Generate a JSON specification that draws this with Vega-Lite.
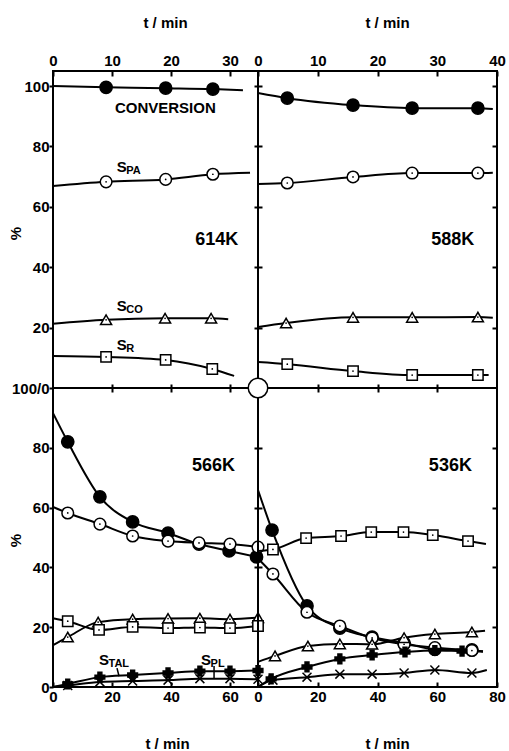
{
  "$schema": "https://vega.github.io/schema/vega-lite/v6.json",
  "background": "white",
  "padding": {"left": 7, "top": 14, "right": 5, "bottom": 0},
  "columns": 2,
  "spacing": 0,
  "bounds": "flush",
  "config": {
    "view": {"stroke": "black", "strokeWidth": 2},
    "axis": {"labelFont": "Liberation Sans", "labelFontWeight": "bold", "labelFontSize": 15, "labelColor": "black", "tickColor": "black", "tickWidth": 2, "titleFont": "Liberation Sans", "titleFontWeight": "bold", "titleFontSize": 15, "titleColor": "black", "grid": false, "domain": false, "labelFlush": false, "labelOverlap": false},
    "text": {"font": "Liberation Sans", "fontWeight": "bold", "color": "black"}
  },
  "datasets": {
    "d": [
      {"p":"614K","s":"CONV","t":0,"v":100,"m":0},{"p":"614K","s":"CONV","t":9,"v":99.6,"m":1},{"p":"614K","s":"CONV","t":19.1,"v":99.3,"m":1},{"p":"614K","s":"CONV","t":27.1,"v":99.0,"m":1},{"p":"614K","s":"CONV","t":32.2,"v":98.6,"m":0},
      {"p":"614K","s":"SPA","t":0,"v":66.9,"m":0},{"p":"614K","s":"SPA","t":9,"v":68.3,"m":1},{"p":"614K","s":"SPA","t":19.1,"v":69.1,"m":1},{"p":"614K","s":"SPA","t":27.1,"v":70.8,"m":1},{"p":"614K","s":"SPA","t":33.4,"v":71.3,"m":0},
      {"p":"614K","s":"SCO","t":0,"v":21.3,"m":0},{"p":"614K","s":"SCO","t":9,"v":22.6,"m":1},{"p":"614K","s":"SCO","t":19,"v":23.1,"m":1},{"p":"614K","s":"SCO","t":26.8,"v":23.1,"m":1},{"p":"614K","s":"SCO","t":29.7,"v":22.8,"m":0},
      {"p":"614K","s":"SR","t":0,"v":10.6,"m":0},{"p":"614K","s":"SR","t":9,"v":10.3,"m":1},{"p":"614K","s":"SR","t":19.1,"v":9.3,"m":1},{"p":"614K","s":"SR","t":27,"v":6.3,"m":1},{"p":"614K","s":"SR","t":30.7,"v":4.0,"m":0},

      {"p":"588K","s":"CONV","t":0,"v":97.7,"m":0},{"p":"588K","s":"CONV","t":4.9,"v":96,"m":1},{"p":"588K","s":"CONV","t":15.9,"v":93.7,"m":1},{"p":"588K","s":"CONV","t":25.8,"v":92.7,"m":1},{"p":"588K","s":"CONV","t":36.8,"v":92.7,"m":1},{"p":"588K","s":"CONV","t":39.3,"v":92.4,"m":0},
      {"p":"588K","s":"SPA","t":0,"v":67.6,"m":0},{"p":"588K","s":"SPA","t":4.9,"v":67.9,"m":1},{"p":"588K","s":"SPA","t":15.9,"v":69.9,"m":1},{"p":"588K","s":"SPA","t":25.8,"v":71.2,"m":1},{"p":"588K","s":"SPA","t":36.8,"v":71.2,"m":1},{"p":"588K","s":"SPA","t":39.3,"v":71.3,"m":0},
      {"p":"588K","s":"SCO","t":0,"v":20.2,"m":0},{"p":"588K","s":"SCO","t":4.7,"v":21.5,"m":1},{"p":"588K","s":"SCO","t":15.9,"v":23.4,"m":1},{"p":"588K","s":"SCO","t":25.8,"v":23.4,"m":1},{"p":"588K","s":"SCO","t":36.8,"v":23.5,"m":1},{"p":"588K","s":"SCO","t":39.3,"v":23.3,"m":0},
      {"p":"588K","s":"SR","t":0,"v":8.6,"m":0},{"p":"588K","s":"SR","t":4.9,"v":7.9,"m":1},{"p":"588K","s":"SR","t":15.9,"v":5.6,"m":1},{"p":"588K","s":"SR","t":25.8,"v":4.3,"m":1},{"p":"588K","s":"SR","t":36.8,"v":4.3,"m":1},{"p":"588K","s":"SR","t":38.6,"v":4.3,"m":0},

      {"p":"566K","s":"CONV","t":0,"v":91.6,"m":0},{"p":"566K","s":"CONV","t":5,"v":82,"m":1},{"p":"566K","s":"CONV","t":15.9,"v":63.6,"m":1},{"p":"566K","s":"CONV","t":27,"v":55.2,"m":1},{"p":"566K","s":"CONV","t":39,"v":51.5,"m":1},{"p":"566K","s":"CONV","t":49.5,"v":47.8,"m":1},{"p":"566K","s":"CONV","t":59.7,"v":45.5,"m":1},{"p":"566K","s":"CONV","t":69,"v":43.5,"m":1},
      {"p":"566K","s":"SPA","t":0,"v":60.2,"m":0},{"p":"566K","s":"SPA","t":5,"v":58.2,"m":1},{"p":"566K","s":"SPA","t":15.9,"v":54.5,"m":1},{"p":"566K","s":"SPA","t":27,"v":50.5,"m":1},{"p":"566K","s":"SPA","t":39,"v":48.8,"m":1},{"p":"566K","s":"SPA","t":49.5,"v":48.2,"m":1},{"p":"566K","s":"SPA","t":60,"v":47.8,"m":1},{"p":"566K","s":"SPA","t":69.5,"v":46.8,"m":1},
      {"p":"566K","s":"SCO","t":0,"v":14,"m":0},{"p":"566K","s":"SCO","t":5,"v":16.7,"m":1},{"p":"566K","s":"SCO","t":15.3,"v":21.7,"m":1},{"p":"566K","s":"SCO","t":27,"v":22.7,"m":1},{"p":"566K","s":"SCO","t":39,"v":22.9,"m":1},{"p":"566K","s":"SCO","t":49.8,"v":23,"m":1},{"p":"566K","s":"SCO","t":60,"v":22.7,"m":1},{"p":"566K","s":"SCO","t":69.5,"v":23.2,"m":1},
      {"p":"566K","s":"SR","t":0,"v":23,"m":0},{"p":"566K","s":"SR","t":5,"v":22,"m":1},{"p":"566K","s":"SR","t":15.6,"v":19.1,"m":1},{"p":"566K","s":"SR","t":27,"v":20.1,"m":1},{"p":"566K","s":"SR","t":39,"v":19.7,"m":1},{"p":"566K","s":"SR","t":49.8,"v":19.9,"m":1},{"p":"566K","s":"SR","t":60,"v":19.7,"m":1},{"p":"566K","s":"SR","t":69.5,"v":20.4,"m":1},
      {"p":"566K","s":"STAL","t":0,"v":0,"m":0},{"p":"566K","s":"STAL","t":5,"v":1,"m":1},{"p":"566K","s":"STAL","t":15.9,"v":3.3,"m":1},{"p":"566K","s":"STAL","t":27,"v":4,"m":1},{"p":"566K","s":"STAL","t":39,"v":4.7,"m":1},{"p":"566K","s":"STAL","t":49.8,"v":5.3,"m":1},{"p":"566K","s":"STAL","t":60,"v":5.3,"m":1},{"p":"566K","s":"STAL","t":69.5,"v":5.5,"m":1},
      {"p":"566K","s":"SPL","t":0,"v":0,"m":0},{"p":"566K","s":"SPL","t":5,"v":0.5,"m":1},{"p":"566K","s":"SPL","t":15.9,"v":1.7,"m":1},{"p":"566K","s":"SPL","t":27,"v":2,"m":1},{"p":"566K","s":"SPL","t":39,"v":2.3,"m":1},{"p":"566K","s":"SPL","t":49.8,"v":2.8,"m":1},{"p":"566K","s":"SPL","t":60,"v":2.8,"m":1},{"p":"566K","s":"SPL","t":69.5,"v":2.6,"m":1},

      {"p":"536K","s":"CONV","t":0,"v":65.9,"m":0},{"p":"536K","s":"CONV","t":4.7,"v":52.5,"m":1},{"p":"536K","s":"CONV","t":16.4,"v":27.1,"m":1},{"p":"536K","s":"CONV","t":27.4,"v":19.7,"m":1},{"p":"536K","s":"CONV","t":38.2,"v":16.7,"m":1},{"p":"536K","s":"CONV","t":48.9,"v":14.7,"m":1},{"p":"536K","s":"CONV","t":59.2,"v":12.6,"m":1},{"p":"536K","s":"CONV","t":71.6,"v":12.4,"m":1},{"p":"536K","s":"CONV","t":75.3,"v":11.9,"m":0},
      {"p":"536K","s":"SPA","t":0,"v":43,"m":0},{"p":"536K","s":"SPA","t":5,"v":37.8,"m":1},{"p":"536K","s":"SPA","t":16.4,"v":25,"m":1},{"p":"536K","s":"SPA","t":27.4,"v":20.4,"m":1},{"p":"536K","s":"SPA","t":38.2,"v":16.4,"m":1},{"p":"536K","s":"SPA","t":48.9,"v":14.3,"m":1},{"p":"536K","s":"SPA","t":59.2,"v":13.2,"m":1},{"p":"536K","s":"SPA","t":71.6,"v":12.2,"m":1},{"p":"536K","s":"SPA","t":75.3,"v":11.9,"m":0},
      {"p":"536K","s":"SR","t":0,"v":45.5,"m":0},{"p":"536K","s":"SR","t":5,"v":46,"m":1},{"p":"536K","s":"SR","t":16.1,"v":49.8,"m":1},{"p":"536K","s":"SR","t":27.8,"v":50.5,"m":1},{"p":"536K","s":"SR","t":37.9,"v":51.8,"m":1},{"p":"536K","s":"SR","t":48.7,"v":51.8,"m":1},{"p":"536K","s":"SR","t":58.5,"v":50.8,"m":1},{"p":"536K","s":"SR","t":70.3,"v":48.8,"m":1},{"p":"536K","s":"SR","t":76.3,"v":47.8,"m":0},
      {"p":"536K","s":"SCO","t":0,"v":8.4,"m":0},{"p":"536K","s":"SCO","t":5.7,"v":10.4,"m":1},{"p":"536K","s":"SCO","t":16.7,"v":13.7,"m":1},{"p":"536K","s":"SCO","t":27.4,"v":14.4,"m":1},{"p":"536K","s":"SCO","t":38.2,"v":14.3,"m":1},{"p":"536K","s":"SCO","t":48.9,"v":16.5,"m":1},{"p":"536K","s":"SCO","t":59.2,"v":17.7,"m":1},{"p":"536K","s":"SCO","t":71.6,"v":18.4,"m":1},{"p":"536K","s":"SCO","t":76,"v":18.8,"m":0},
      {"p":"536K","s":"STAL","t":0,"v":0,"m":0},{"p":"536K","s":"STAL","t":4.4,"v":2.7,"m":1},{"p":"536K","s":"STAL","t":16.4,"v":6.7,"m":1},{"p":"536K","s":"STAL","t":27.4,"v":9.4,"m":1},{"p":"536K","s":"STAL","t":38.2,"v":10.7,"m":1},{"p":"536K","s":"STAL","t":49.2,"v":11.7,"m":1},{"p":"536K","s":"STAL","t":59.2,"v":12.2,"m":1},{"p":"536K","s":"STAL","t":68.3,"v":12.0,"m":1},{"p":"536K","s":"STAL","t":75.3,"v":11.9,"m":0},
      {"p":"536K","s":"SPL","t":0,"v":0,"m":0},{"p":"536K","s":"SPL","t":5,"v":2.3,"m":1},{"p":"536K","s":"SPL","t":16.4,"v":3.3,"m":1},{"p":"536K","s":"SPL","t":27.4,"v":4.3,"m":1},{"p":"536K","s":"SPL","t":38.2,"v":4.3,"m":1},{"p":"536K","s":"SPL","t":48.9,"v":4.7,"m":1},{"p":"536K","s":"SPL","t":59.2,"v":5.7,"m":1},{"p":"536K","s":"SPL","t":71.6,"v":4.7,"m":1},{"p":"536K","s":"SPL","t":76.6,"v":5.7,"m":0}
    ],
    "lab": [
      {"p":"614K","t":10.5,"v":91.1,"a":"CONVERSION","b":""},
      {"p":"614K","t":10.8,"v":71.5,"a":"S","b":"PA"},
      {"p":"614K","t":10.8,"v":25.5,"a":"S","b":"CO"},
      {"p":"614K","t":10.8,"v":12.6,"a":"S","b":"R"},
      {"p":"566K","t":15.6,"v":7.4,"a":"S","b":"TAL"},
      {"p":"566K","t":50.2,"v":7.4,"a":"S","b":"PL"}
    ],
    "temp": [
      {"p":"614K","t":31.4,"v":47.4,"k":"614K"},
      {"p":"588K","t":36.2,"v":47.4,"k":"588K"},
      {"p":"566K","t":61.7,"v":72.2,"k":"566K"},
      {"p":"536K","t":71.6,"v":72.2,"k":"536K"}
    ],
    "lead": [
      {"p":"566K","t":21.7,"t2":22.4,"v":6.3,"v2":3.6},
      {"p":"566K","t":54.6,"t2":54.6,"v":7.0,"v2":2.9}
    ],
    "ring": [{"p":"536K","t":0,"v":100}]
  },
  "concat": [
    {
      "width": 205, "height": 317,
      "resolve": {"axis": {"x": "independent", "y": "independent"}},
      "layer": [
        {"data": {"name": "d"}, "transform": [{"filter": "datum.p === '614K'"}],
         "mark": {"type": "line", "color": "black", "strokeWidth": 2, "interpolate": "monotone"},
         "encoding": {
           "x": {"field": "t", "type": "quantitative", "scale": {"domain": [0, 34.75], "nice": false, "zero": false},
                 "axis": {"orient": "top", "values": [0,10,20,30], "tickSize": 5, "offset": -5, "labelPadding": 3, "title": "t / min", "titleX": 112, "titleY": -54, "titleBaseline": "middle"}},
           "y": {"field": "v", "type": "quantitative", "scale": {"domain": [0, 105], "nice": false, "zero": false},
                 "axis": {"orient": "left", "values": [0,20,40,60,80,100], "tickSize": 4, "labelPadding": 0, "labelExpr": "datum.value === 0 ? '100/0' : datum.label", "title": "%", "titleX": -38, "titleY": 162, "titleBaseline": "middle", "titleAngle": 270}},
           "detail": {"field": "s"}
         }},
        {"data": {"name": "d"}, "transform": [{"filter": "datum.p === '614K' && datum.m === 1"}],
         "mark": {"type": "point", "filled": true, "opacity": 1, "stroke": "black", "strokeWidth": 1.5},
         "encoding": {
           "x": {"field": "t", "type": "quantitative", "scale": {"domain": [0, 34.75], "nice": false, "zero": false},
                 "axis": {"orient": "bottom", "values": [10,20,30], "labels": false, "tickSize": 8, "offset": -4, "title": null}},
           "y": {"field": "v", "type": "quantitative", "scale": {"domain": [0, 105], "nice": false, "zero": false},
                 "axis": {"orient": "right", "values": [20,40,60,80,100], "labels": false, "tickSize": 8, "offset": -4, "title": null}},
           "shape": {"field": "s", "type": "nominal", "scale": {"domain": ["CONV","SPA","SCO","SR","STAL","SPL"], "range": ["circle","circle","triangle-up","square","cross","M-1,-1L1,1M-1,1L1,-1"]}, "legend": null},
           "fill": {"field": "s", "type": "nominal", "scale": {"domain": ["CONV","SPA","SCO","SR","STAL","SPL"], "range": ["black","white","white","white","black","black"]}, "legend": null},
           "size": {"field": "s", "type": "nominal", "scale": {"domain": ["CONV","SPA","SCO","SR","STAL","SPL"], "range": [150, 80, 95, 80, 30, 30]}, "legend": null}
         }},
        {"data": {"name": "d"}, "transform": [{"filter": "datum.p === '614K' && datum.m === 1 && (datum.s === 'SPA' || datum.s === 'SCO' || datum.s === 'SR')"}],
         "mark": {"type": "point", "filled": true, "opacity": 1, "color": "black", "size": 3, "shape": "circle"},
         "encoding": {
           "x": {"field": "t", "type": "quantitative", "scale": {"domain": [0, 34.75], "nice": false, "zero": false}, "axis": null},
           "y": {"field": "v", "type": "quantitative", "scale": {"domain": [0, 105], "nice": false, "zero": false}, "axis": null}
         }},
        {"data": {"name": "lab"}, "transform": [{"filter": "datum.p === '614K'"}],
         "mark": {"type": "text", "align": "left", "baseline": "alphabetic", "fontSize": 15},
         "encoding": {
           "x": {"field": "t", "type": "quantitative", "scale": {"domain": [0, 34.75], "nice": false, "zero": false}, "axis": null},
           "y": {"field": "v", "type": "quantitative", "scale": {"domain": [0, 105], "nice": false, "zero": false}, "axis": null},
           "text": {"field": "a"}
         }},
        {"data": {"name": "lab"}, "transform": [{"filter": "datum.p === '614K'"}],
         "mark": {"type": "text", "align": "left", "baseline": "alphabetic", "fontSize": 11, "dx": 9.5, "dy": 2},
         "encoding": {
           "x": {"field": "t", "type": "quantitative", "scale": {"domain": [0, 34.75], "nice": false, "zero": false}, "axis": null},
           "y": {"field": "v", "type": "quantitative", "scale": {"domain": [0, 105], "nice": false, "zero": false}, "axis": null},
           "text": {"field": "b"}
         }},
        {"data": {"name": "temp"}, "transform": [{"filter": "datum.p === '614K'"}],
         "mark": {"type": "text", "align": "right", "baseline": "alphabetic", "fontSize": 18},
         "encoding": {
           "x": {"field": "t", "type": "quantitative", "scale": {"domain": [0, 34.75], "nice": false, "zero": false}, "axis": null},
           "y": {"field": "v", "type": "quantitative", "scale": {"domain": [0, 105], "nice": false, "zero": false}, "axis": null},
           "text": {"field": "k"}
         }}
      ]
    },
    {
      "width": 239, "height": 317,
      "resolve": {"axis": {"x": "independent", "y": "independent"}},
      "layer": [
        {"data": {"name": "d"}, "transform": [{"filter": "datum.p === '588K'"}],
         "mark": {"type": "line", "color": "black", "strokeWidth": 2, "interpolate": "monotone"},
         "encoding": {
           "x": {"field": "t", "type": "quantitative", "scale": {"domain": [0, 40], "nice": false, "zero": false},
                 "axis": {"orient": "top", "values": [0,10,20,30,40], "tickSize": 5, "offset": -5, "labelPadding": 3, "title": "t / min", "titleX": 129, "titleY": -54, "titleBaseline": "middle"}},
           "y": {"field": "v", "type": "quantitative", "scale": {"domain": [0, 105], "nice": false, "zero": false},
                 "axis": {"orient": "right", "values": [20,40,60,80,100], "labels": false, "tickSize": 5, "offset": -5, "title": null}},
           "detail": {"field": "s"}
         }},
        {"data": {"name": "d"}, "transform": [{"filter": "datum.p === '588K' && datum.m === 1"}],
         "mark": {"type": "point", "filled": true, "opacity": 1, "stroke": "black", "strokeWidth": 1.5},
         "encoding": {
           "x": {"field": "t", "type": "quantitative", "scale": {"domain": [0, 40], "nice": false, "zero": false},
                 "axis": {"orient": "bottom", "values": [10,20,30], "labels": false, "tickSize": 8, "offset": -4, "title": null}},
           "y": {"field": "v", "type": "quantitative", "scale": {"domain": [0, 105], "nice": false, "zero": false}, "axis": null},
           "shape": {"field": "s", "type": "nominal", "scale": {"domain": ["CONV","SPA","SCO","SR","STAL","SPL"], "range": ["circle","circle","triangle-up","square","cross","M-1,-1L1,1M-1,1L1,-1"]}, "legend": null},
           "fill": {"field": "s", "type": "nominal", "scale": {"domain": ["CONV","SPA","SCO","SR","STAL","SPL"], "range": ["black","white","white","white","black","black"]}, "legend": null},
           "size": {"field": "s", "type": "nominal", "scale": {"domain": ["CONV","SPA","SCO","SR","STAL","SPL"], "range": [150, 80, 95, 80, 30, 30]}, "legend": null}
         }},
        {"data": {"name": "d"}, "transform": [{"filter": "datum.p === '588K' && datum.m === 1 && (datum.s === 'SPA' || datum.s === 'SCO' || datum.s === 'SR')"}],
         "mark": {"type": "point", "filled": true, "opacity": 1, "color": "black", "size": 3, "shape": "circle"},
         "encoding": {
           "x": {"field": "t", "type": "quantitative", "scale": {"domain": [0, 40], "nice": false, "zero": false}, "axis": null},
           "y": {"field": "v", "type": "quantitative", "scale": {"domain": [0, 105], "nice": false, "zero": false}, "axis": null}
         }},
        {"data": {"name": "temp"}, "transform": [{"filter": "datum.p === '588K'"}],
         "mark": {"type": "text", "align": "right", "baseline": "alphabetic", "fontSize": 18},
         "encoding": {
           "x": {"field": "t", "type": "quantitative", "scale": {"domain": [0, 40], "nice": false, "zero": false}, "axis": null},
           "y": {"field": "v", "type": "quantitative", "scale": {"domain": [0, 105], "nice": false, "zero": false}, "axis": null},
           "text": {"field": "k"}
         }}
      ]
    },
    {
      "width": 205, "height": 299,
      "resolve": {"axis": {"x": "independent", "y": "independent"}},
      "layer": [
        {"data": {"name": "d"}, "transform": [{"filter": "datum.p === '566K'"}],
         "mark": {"type": "line", "color": "black", "strokeWidth": 2, "interpolate": "monotone"},
         "encoding": {
           "x": {"field": "t", "type": "quantitative", "scale": {"domain": [0, 69.5], "nice": false, "zero": false},
                 "axis": {"orient": "bottom", "values": [0,20,40,60], "tickSize": 5, "offset": -5, "labelPadding": 2, "title": "t / min", "titleX": 114, "titleY": 61, "titleBaseline": "middle"}},
           "y": {"field": "v", "type": "quantitative", "scale": {"domain": [0, 100], "nice": false, "zero": false},
                 "axis": {"orient": "left", "values": [0,20,40,60,80], "tickSize": 4, "labelPadding": 0, "title": "%", "titleX": -38, "titleY": 152, "titleBaseline": "middle", "titleAngle": 270}},
           "detail": {"field": "s"}
         }},
        {"data": {"name": "d"}, "transform": [{"filter": "datum.p === '566K' && datum.m === 1"}],
         "mark": {"type": "point", "filled": true, "opacity": 1, "stroke": "black", "strokeWidth": 1.5},
         "encoding": {
           "x": {"field": "t", "type": "quantitative", "scale": {"domain": [0, 69.5], "nice": false, "zero": false}, "axis": null},
           "y": {"field": "v", "type": "quantitative", "scale": {"domain": [0, 100], "nice": false, "zero": false},
                 "axis": {"orient": "right", "values": [20,40,60,80], "labels": false, "tickSize": 8, "offset": -4, "title": null}},
           "shape": {"field": "s", "type": "nominal", "scale": {"domain": ["CONV","SPA","SCO","SR","STAL","SPL"], "range": ["circle","circle","triangle-up","square","cross","M-1,-1L1,1M-1,1L1,-1"]}, "legend": null},
           "fill": {"field": "s", "type": "nominal", "scale": {"domain": ["CONV","SPA","SCO","SR","STAL","SPL"], "range": ["black","white","white","white","black","black"]}, "legend": null},
           "size": {"field": "s", "type": "nominal", "scale": {"domain": ["CONV","SPA","SCO","SR","STAL","SPL"], "range": [150, 80, 95, 80, 30, 30]}, "legend": null}
         }},
        {"data": {"name": "d"}, "transform": [{"filter": "datum.p === '566K' && datum.m === 1 && (datum.s === 'SPA' || datum.s === 'SCO' || datum.s === 'SR')"}],
         "mark": {"type": "point", "filled": true, "opacity": 1, "color": "black", "size": 3, "shape": "circle"},
         "encoding": {
           "x": {"field": "t", "type": "quantitative", "scale": {"domain": [0, 69.5], "nice": false, "zero": false}, "axis": null},
           "y": {"field": "v", "type": "quantitative", "scale": {"domain": [0, 100], "nice": false, "zero": false}, "axis": null}
         }},
        {"data": {"name": "lead"}, "transform": [{"filter": "datum.p === '566K'"}],
         "mark": {"type": "rule", "color": "black", "strokeWidth": 1.5},
         "encoding": {
           "x": {"field": "t", "type": "quantitative", "scale": {"domain": [0, 69.5], "nice": false, "zero": false}, "axis": null},
           "x2": {"field": "t2"},
           "y": {"field": "v", "type": "quantitative", "scale": {"domain": [0, 100], "nice": false, "zero": false}, "axis": null},
           "y2": {"field": "v2"}
         }},
        {"data": {"name": "lab"}, "transform": [{"filter": "datum.p === '566K'"}],
         "mark": {"type": "text", "align": "left", "baseline": "alphabetic", "fontSize": 15},
         "encoding": {
           "x": {"field": "t", "type": "quantitative", "scale": {"domain": [0, 69.5], "nice": false, "zero": false}, "axis": null},
           "y": {"field": "v", "type": "quantitative", "scale": {"domain": [0, 100], "nice": false, "zero": false}, "axis": null},
           "text": {"field": "a"}
         }},
        {"data": {"name": "lab"}, "transform": [{"filter": "datum.p === '566K'"}],
         "mark": {"type": "text", "align": "left", "baseline": "alphabetic", "fontSize": 11, "dx": 9.5, "dy": 2},
         "encoding": {
           "x": {"field": "t", "type": "quantitative", "scale": {"domain": [0, 69.5], "nice": false, "zero": false}, "axis": null},
           "y": {"field": "v", "type": "quantitative", "scale": {"domain": [0, 100], "nice": false, "zero": false}, "axis": null},
           "text": {"field": "b"}
         }},
        {"data": {"name": "temp"}, "transform": [{"filter": "datum.p === '566K'"}],
         "mark": {"type": "text", "align": "right", "baseline": "alphabetic", "fontSize": 18},
         "encoding": {
           "x": {"field": "t", "type": "quantitative", "scale": {"domain": [0, 69.5], "nice": false, "zero": false}, "axis": null},
           "y": {"field": "v", "type": "quantitative", "scale": {"domain": [0, 100], "nice": false, "zero": false}, "axis": null},
           "text": {"field": "k"}
         }}
      ]
    },
    {
      "width": 239, "height": 299,
      "resolve": {"axis": {"x": "independent", "y": "independent"}},
      "layer": [
        {"data": {"name": "d"}, "transform": [{"filter": "datum.p === '536K'"}],
         "mark": {"type": "line", "color": "black", "strokeWidth": 2, "interpolate": "monotone"},
         "encoding": {
           "x": {"field": "t", "type": "quantitative", "scale": {"domain": [0, 80], "nice": false, "zero": false},
                 "axis": {"orient": "bottom", "values": [0,20,40,60,80], "tickSize": 5, "offset": -5, "labelPadding": 2, "title": "t / min", "titleX": 129, "titleY": 61, "titleBaseline": "middle"}},
           "y": {"field": "v", "type": "quantitative", "scale": {"domain": [0, 100], "nice": false, "zero": false},
                 "axis": {"orient": "right", "values": [20,40,60,80], "labels": false, "tickSize": 5, "offset": -5, "title": null}},
           "detail": {"field": "s"}
         }},
        {"data": {"name": "d"}, "transform": [{"filter": "datum.p === '536K' && datum.m === 1"}],
         "mark": {"type": "point", "filled": true, "opacity": 1, "stroke": "black", "strokeWidth": 1.5},
         "encoding": {
           "x": {"field": "t", "type": "quantitative", "scale": {"domain": [0, 80], "nice": false, "zero": false}, "axis": null},
           "y": {"field": "v", "type": "quantitative", "scale": {"domain": [0, 100], "nice": false, "zero": false}, "axis": null},
           "shape": {"field": "s", "type": "nominal", "scale": {"domain": ["CONV","SPA","SCO","SR","STAL","SPL"], "range": ["circle","circle","triangle-up","square","cross","M-1,-1L1,1M-1,1L1,-1"]}, "legend": null},
           "fill": {"field": "s", "type": "nominal", "scale": {"domain": ["CONV","SPA","SCO","SR","STAL","SPL"], "range": ["black","white","white","white","black","black"]}, "legend": null},
           "size": {"field": "s", "type": "nominal", "scale": {"domain": ["CONV","SPA","SCO","SR","STAL","SPL"], "range": [150, 80, 95, 80, 30, 30]}, "legend": null}
         }},
        {"data": {"name": "d"}, "transform": [{"filter": "datum.p === '536K' && datum.m === 1 && (datum.s === 'SPA' || datum.s === 'SCO' || datum.s === 'SR')"}],
         "mark": {"type": "point", "filled": true, "opacity": 1, "color": "black", "size": 3, "shape": "circle"},
         "encoding": {
           "x": {"field": "t", "type": "quantitative", "scale": {"domain": [0, 80], "nice": false, "zero": false}, "axis": null},
           "y": {"field": "v", "type": "quantitative", "scale": {"domain": [0, 100], "nice": false, "zero": false}, "axis": null}
         }},
        {"data": {"name": "temp"}, "transform": [{"filter": "datum.p === '536K'"}],
         "mark": {"type": "text", "align": "right", "baseline": "alphabetic", "fontSize": 18},
         "encoding": {
           "x": {"field": "t", "type": "quantitative", "scale": {"domain": [0, 80], "nice": false, "zero": false}, "axis": null},
           "y": {"field": "v", "type": "quantitative", "scale": {"domain": [0, 100], "nice": false, "zero": false}, "axis": null},
           "text": {"field": "k"}
         }},
        {"data": {"name": "ring"},
         "mark": {"type": "point", "filled": true, "opacity": 1, "fill": "white", "stroke": "black", "strokeWidth": 1.5, "size": 380, "shape": "circle"},
         "encoding": {
           "x": {"field": "t", "type": "quantitative", "scale": {"domain": [0, 80], "nice": false, "zero": false}, "axis": null},
           "y": {"field": "v", "type": "quantitative", "scale": {"domain": [0, 100], "nice": false, "zero": false}, "axis": null}
         }}
      ]
    }
  ]
}
